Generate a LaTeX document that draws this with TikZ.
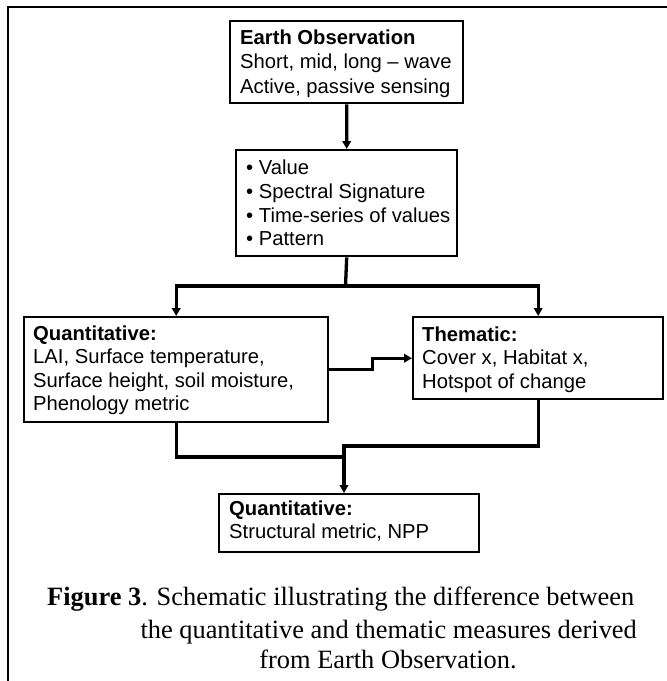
\documentclass[tikz,border=0pt]{standalone}
\usepackage{fontspec}
\setmainfont{Liberation Serif}
\newfontfamily\arialf{Liberation Sans}
\usetikzlibrary{arrows.meta}
\begin{document}
\begin{tikzpicture}[x=1bp,y=-1bp,
  box/.style={draw=black, line width=2.4bp, rectangle, inner sep=0pt, anchor=north west},
  txt/.style={anchor=base west, inner sep=0pt, font=\arialf\fontsize{20.3}{24}\selectfont},
  conn/.style={line width=3.3bp, -{Triangle[length=8bp,width=8.5bp]}},
  link/.style={line width=3.3bp},
  captxt/.style={inner sep=0pt, font=\fontsize{26.5}{31.5}\selectfont}
]
\useasboundingbox (0,0) rectangle (667,681);
% frame (right and bottom sides lie outside the picture)
\draw[line width=1.9bp] (690,6.7) -- (8,6.7) -- (8,700);

% boxes
\node[box, minimum width=233bp, minimum height=82bp] (eo) at (229,20) {};
\node[box, minimum width=221bp, minimum height=106bp] (mid) at (235,149) {};
\node[box, minimum width=304bp, minimum height=105bp] (q1) at (23,316) {};
\node[box, minimum width=250bp, minimum height=82bp] (th) at (412,316) {};
\node[box, minimum width=260bp, minimum height=58bp] (q2) at (218,493) {};

% texts
\node[txt] (eo1) at (240,45) {\bfseries Earth Observation};
\node[txt] (eo2) at (240,69) {Short, mid, long – wave};
\node[txt] (eo3) at (240,94) {Active, passive sensing};

\node[txt] (mid1) at (246,174) {• Value};
\node[txt] (mid2) at (246,198) {• Spectral Signature};
\node[txt] (mid3) at (246,222) {• Time-series of values};
\node[txt] (mid4) at (246,245) {• Pattern};

\node[txt] (q11) at (33,340) {\bfseries Quantitative:};
\node[txt] (q12) at (33,363.5) {LAI, Surface temperature,};
\node[txt] (q13) at (33,387.5) {Surface height, soil moisture,};
\node[txt] (q14) at (33,410.5) {Phenology metric};

\node[txt] (th1) at (422,341.5) {\bfseries Thematic:};
\node[txt] (th2) at (422,364.5) {Cover x, Habitat x,};
\node[txt] (th3) at (422,388) {Hotspot of change};

\node[txt] (q21) at (229,515) {\bfseries Quantitative:};
\node[txt] (q22) at (229,538.5) {Structural metric, NPP};

% caption
\node[captxt, anchor=base west] (cap1) at (47,605) {\textbf{Figure 3}. Schematic illustrating the difference between};
\node[captxt, anchor=base east] (cap2) at (637,638.5) {the quantitative and thematic measures derived};
\node[captxt, anchor=base] (cap3) at (388,668.5) {from Earth Observation.};

% connectors
\coordinate (j1) at (345.5,286);
\coordinate (mt) at (344,446);
\coordinate (mb) at (344,457);
\draw[conn] (eo.south) -- (mid.north);
\draw[link] (mid.south) -- (j1);
\draw[conn] (j1) -| (q1.north);
\draw[conn] (j1) -| (th.north);
\draw[conn] (q1.east) -- ++(43,0) |- (th.west);
\draw[link] (q1.south) |- (mb);
\draw[conn] (th.south) |- (mt) -- (mt |- q2.north);
\end{tikzpicture}
\end{document}
